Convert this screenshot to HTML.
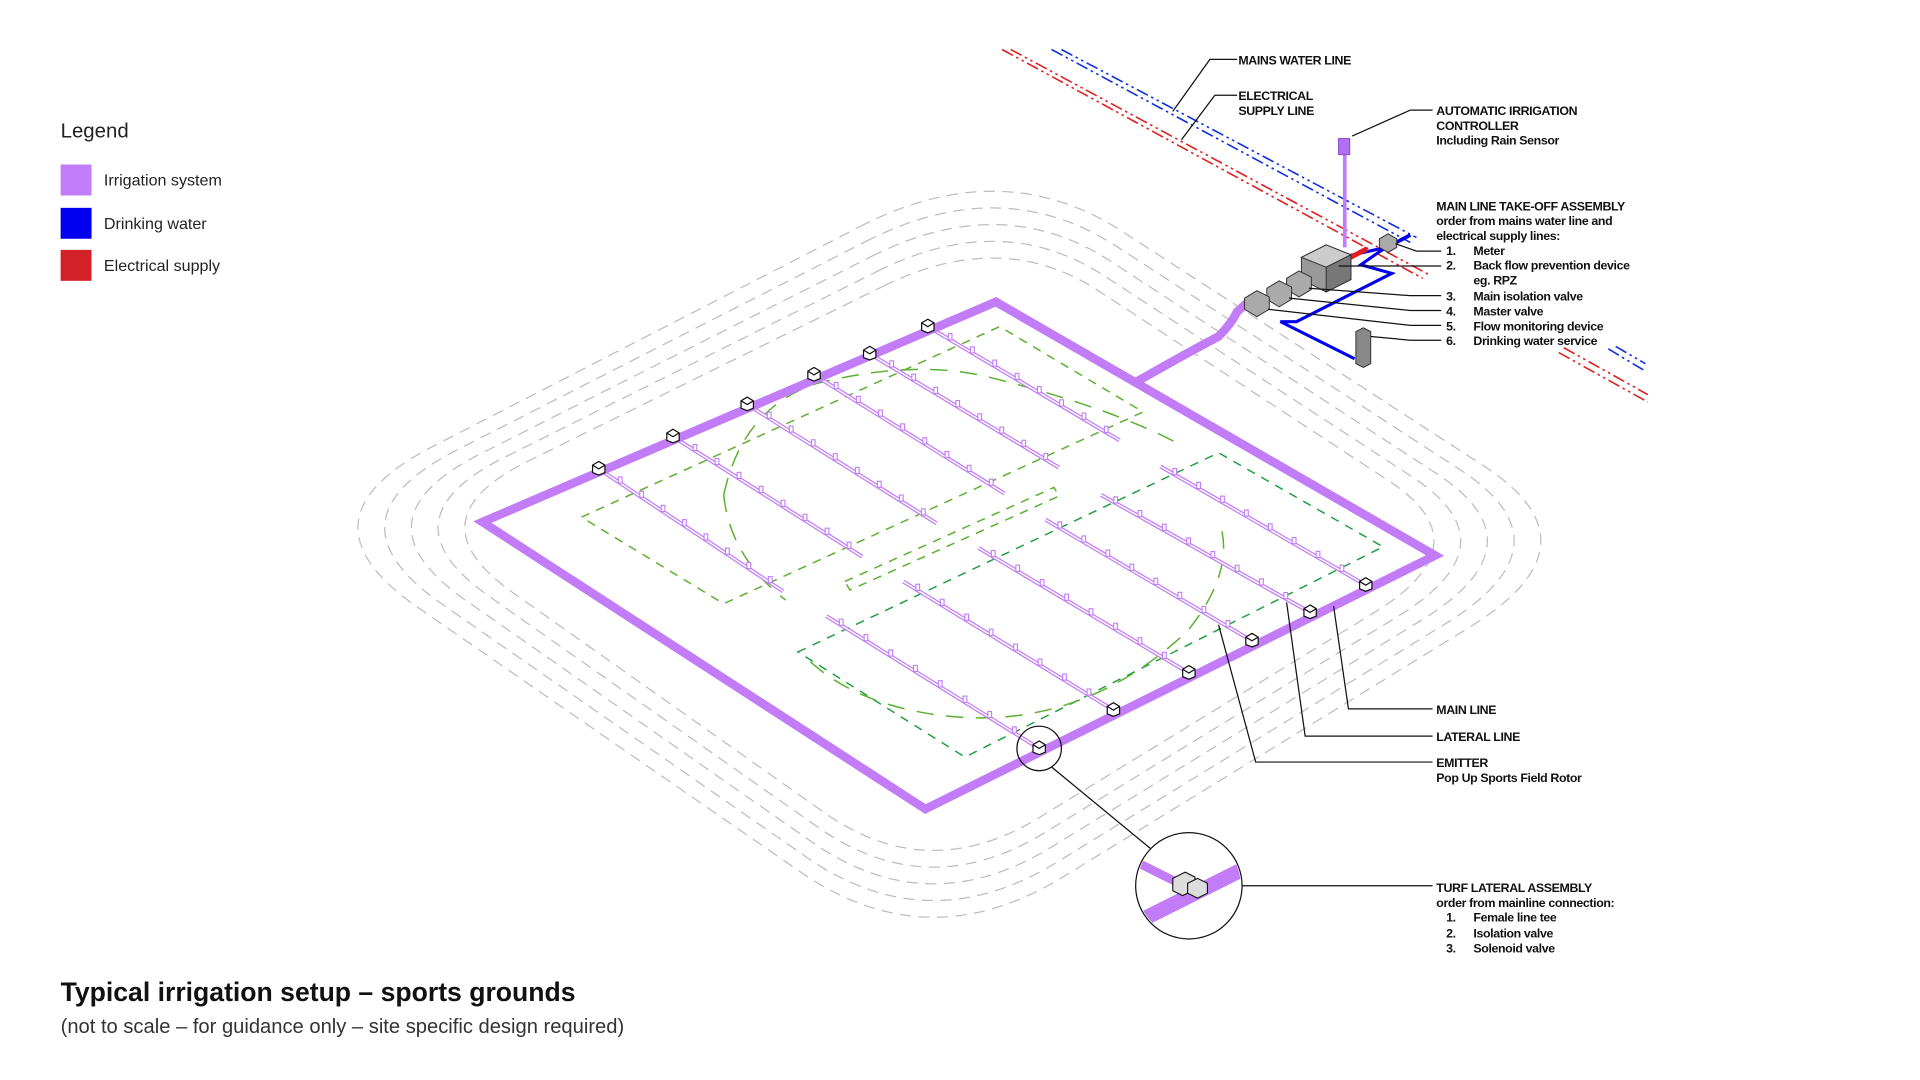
<!DOCTYPE html>
<html><head><meta charset="utf-8"><style>
html,body{margin:0;padding:0;background:#fff;}
svg{display:block}
.t{font-family:"Liberation Sans",Arial,sans-serif;}
.s{font-family:"Liberation Sans",Arial,sans-serif;font-size:10px;fill:#111;letter-spacing:-0.3px}
.b{font-weight:bold}
</style></head><body>
<svg id="sv" width="1920" height="1080" viewBox="0 0 1552 873" xmlns="http://www.w3.org/2000/svg">
<rect width="1552" height="873" fill="#fff"/>
<text x="49" y="111" class="t" font-size="16.5" fill="#222">Legend</text>
<rect x="49" y="133" width="25" height="25" fill="#c27cf7"/>
<rect x="49" y="168" width="25" height="25" fill="#0000ee"/>
<rect x="49" y="202" width="25" height="25" fill="#d42027"/>
<text x="84" y="150" class="t" font-size="13" fill="#222">Irrigation system</text>
<text x="84" y="185" class="t" font-size="13" fill="#222">Drinking water</text>
<text x="84" y="219" class="t" font-size="13" fill="#222">Electrical supply</text>
<text x="49" y="809" class="t b" font-size="21.5" fill="#111">Typical irrigation setup – sports grounds</text>
<text x="49" y="835" class="t" font-size="16.3" fill="#333">(not to scale – for guidance only – site specific design required)</text>

<g id="outl" fill="none" stroke="#bdbdbd" stroke-width="1" stroke-dasharray="9 6"></g>

<g fill="none" stroke-width="1.3" stroke-dasharray="10 3 2 3 2 3">
<line x1="850" y1="40" x2="1140" y2="196" stroke="#1030e0"/>
<line x1="858" y1="40" x2="1145" y2="192" stroke="#1030e0"/>
<line x1="810" y1="40" x2="1150" y2="225" stroke="#e02020"/>
<line x1="817" y1="40" x2="1155" y2="222" stroke="#e02020"/>
<line x1="1300" y1="282" x2="1330" y2="300" stroke="#1030e0"/>
<line x1="1306" y1="280" x2="1330" y2="294" stroke="#1030e0"/>
<line x1="1260" y1="285" x2="1332" y2="325" stroke="#e02020"/>
<line x1="1264" y1="281" x2="1332" y2="319" stroke="#e02020"/>
</g>

<g fill="none" stroke="#5ab030" stroke-width="1.2" stroke-dasharray="7 6">
<polygon points="470,418 808,264 924,333 585,488"/>
<polygon points="683,470 852,394 856,401 687,477"/>
<path d="M 585,400 Q 600,330 660,310 Q 740,290 800,305 Q 900,330 955,360" stroke-dasharray="14 10"/>
<path d="M 585,400 Q 590,450 635,485" stroke-dasharray="14 10"/>
</g>
<g fill="none" stroke="#20a040" stroke-width="1.2" stroke-dasharray="7 6">
<polygon points="645,527 985,366 1118,442 780,612"/>
<path d="M 655,535 Q 700,575 780,580 Q 880,585 960,510 Q 1000,460 985,420" stroke="#5ab030" stroke-dasharray="14 10"/>
</g>

<g id="lat"></g>

<g fill="none" stroke="#c27cf7" stroke-linejoin="miter">
<polygon points="805,244 1160,449 748,654 390,422" stroke-width="7"/>
<path d="M 918,309 Q 960,285 985,272 Q 995,262 1000,252 L 1010,243" stroke-width="7"/>
<line x1="1087" y1="122" x2="1087" y2="200" stroke-width="3"/>
</g>
<rect x="1082" y="112" width="9" height="13" fill="#b070f0" stroke="#8a4bd0" stroke-width="0.8"/>
<g id="boxes"></g>

<g stroke="#333" stroke-width="0.8">
<polyline points="1085,208 1120,200 1100,214 1125,221 1048,260 1035,260 1095,290" fill="none" stroke="#0000ee" stroke-width="2.5"/>
<line x1="1090" y1="209" x2="1105" y2="201" stroke="#e02020" stroke-width="4"/>
<line x1="1115" y1="203" x2="1140" y2="190" stroke="#0000ee" stroke-width="3"/>
<polygon points="1052,208 1072,198 1092,206 1092,226 1072,236 1052,226" fill="#999"/>
<polygon points="1052,208 1072,198 1092,206 1072,216" fill="#ccc"/>
<polygon points="1072,216 1092,206 1092,226 1072,236" fill="#777"/>
<polygon points="1040,225 1050,219 1060,224 1060,234 1050,240 1040,234" fill="#aaa"/>
<polygon points="1024,233 1034,227 1044,232 1044,242 1034,248 1024,242" fill="#aaa"/>
<polygon points="1006,241 1016,235 1026,240 1026,250 1016,256 1006,250" fill="#aaa"/>
<polygon points="1115,193 1122,189 1129,193 1129,200 1122,204 1115,200" fill="#aaa"/>
<polygon points="1096,268 1102,265 1108,268 1108,294 1102,297 1096,294" fill="#888"/>
</g>

<g fill="none" stroke="#111" stroke-width="1">
<polyline points="948,90 978,48 1000,48"/>
<polyline points="955,113 982,77 1000,77"/>
<polyline points="1093,110 1140,89 1158,89"/>
<polyline points="1128,197 1145,203 1165,203"/>
<polyline points="1082,215 1165,215"/>
<polyline points="1058,233 1140,239 1165,239"/>
<polyline points="1042,241 1140,251 1165,251"/>
<polyline points="1025,250 1140,263 1165,263"/>
<polyline points="1108,272 1140,275 1165,275"/>
<polyline points="1078,490 1090,573 1158,573"/>
<polyline points="1040,487 1055,595 1158,595"/>
<polyline points="985,505 1015,616 1158,616"/>
<line x1="978" y1="716" x2="1158" y2="716"/>
<line x1="850" y1="620" x2="935" y2="690"/>
<circle cx="840" cy="605" r="18"/>
</g>
<circle cx="961" cy="716" r="43" fill="#fff" stroke="#111" stroke-width="1"/>
<clipPath id="cc"><circle cx="961" cy="716" r="42"/></clipPath>
<g clip-path="url(#cc)"><line x1="910" y1="750" x2="1010" y2="700" stroke="#c27cf7" stroke-width="12"/>
<line x1="915" y1="695" x2="965" y2="720" stroke="#c27cf7" stroke-width="7"/></g>
<g stroke="#111" stroke-width="0.9" fill="#ddd">
<polygon points="948,710 958,705 966,709 966,719 956,724 948,720"/>
<polygon points="960,714 968,710 976,714 976,722 968,726 960,722"/>
</g>

<text class="s b" x="1001" y="52">MAINS WATER LINE</text>
<text class="s b" x="1001" y="81">ELECTRICAL</text><text class="s b" x="1001" y="93">SUPPLY LINE</text>
<text class="s b" x="1161" y="93">AUTOMATIC IRRIGATION</text>
<text class="s b" x="1161" y="105">CONTROLLER</text>
<text class="s b" x="1161" y="117">Including Rain Sensor</text>
<text class="s b" x="1161" y="170">MAIN LINE TAKE-OFF ASSEMBLY</text>
<text class="s b" x="1161" y="182">order from mains water line and</text>
<text class="s b" x="1161" y="194">electrical supply lines:</text>
<g class="s b">
<text x="1169" y="206">1.</text><text x="1191" y="206">Meter</text>
<text x="1169" y="218">2.</text><text x="1191" y="218">Back flow prevention device</text>
<text x="1191" y="230">eg. RPZ</text>
<text x="1169" y="243">3.</text><text x="1191" y="243">Main isolation valve</text>
<text x="1169" y="255">4.</text><text x="1191" y="255">Master valve</text>
<text x="1169" y="267">5.</text><text x="1191" y="267">Flow monitoring device</text>
<text x="1169" y="279">6.</text><text x="1191" y="279">Drinking water service</text>
<text x="1161" y="577">MAIN LINE</text>
<text x="1161" y="599">LATERAL LINE</text>
<text x="1161" y="620">EMITTER</text>
<text x="1161" y="632">Pop Up Sports Field Rotor</text>
<text x="1161" y="721">TURF LATERAL ASSEMBLY</text>
<text x="1161" y="733">order from mainline connection:</text>
<text x="1169" y="745">1.</text><text x="1191" y="745">Female line tee</text>
<text x="1169" y="758">2.</text><text x="1191" y="758">Isolation valve</text>
<text x="1169" y="770">3.</text><text x="1191" y="770">Solenoid valve</text>
</g>
</svg>
<script>
var NS="http://www.w3.org/2000/svg";
function el(p,t,a){var e=document.createElementNS(NS,t);for(var k in a)e.setAttribute(k,a[k]);p.appendChild(e);return e;}
var o=document.getElementById('outl');
function lerp(a,b,t){return [a[0]+(b[0]-a[0])*t,a[1]+(b[1]-a[1])*t];}
for(var k=0;k<5;k++){
 var d=k*15;
 var P=[[810,124+d],[1297-d*1.6,440],[750,776-d],[235+d*1.6,420]],path="";
 for(var i=0;i<4;i++){var a=P[(i+3)%4],b=P[i],c=P[(i+1)%4];
  var p1=lerp(b,a,0.2),p2=lerp(b,c,0.2);
  path+=(i==0?"M":"L")+p1[0]+","+p1[1]+" Q"+b[0]+","+b[1]+" "+p2[0]+","+p2[1]+" ";}
 el(o,'path',{d:path+"Z"});
}
var g=document.getElementById('lat');
var L1=[[484,379,633,478],[544,353,697,450],[604,327,757,423],[658,303,812,399],[703,286,856,378],[750,264,905,356],
[840,605,668,498],[900,574,730,470],[961,544,791,443],[1012,518,845,420],[1059,495,890,400],[1104,473,938,377]];
var bx=document.getElementById('boxes');
L1.forEach(function(l){
 el(g,'line',{x1:l[0],y1:l[1],x2:l[2],y2:l[3],stroke:'#c27cf7','stroke-width':3.2});
 el(g,'line',{x1:l[0],y1:l[1],x2:l[2],y2:l[3],stroke:'#fff','stroke-width':1.2});
 for(var i=1;i<=8;i++){var t=i/8.6,x=l[0]+(l[2]-l[0])*t,y=l[1]+(l[3]-l[1])*t;
  el(g,'rect',{x:x-1.5,y:y-5,width:3,height:5,fill:'#fff',stroke:'#c27cf7','stroke-width':0.9});}
 var x=l[0],y=l[1];
 el(bx,'polygon',{points:(x-5)+","+(y-3)+" "+x+","+(y-6)+" "+(x+5)+","+(y-3)+" "+(x+5)+","+(y+3)+" "+x+","+(y+5)+" "+(x-5)+","+(y+3),fill:'#fff',stroke:'#111','stroke-width':1});
 el(bx,'polyline',{points:(x-5)+","+(y-3)+" "+x+","+y+" "+(x+5)+","+(y-3),fill:'none',stroke:'#111','stroke-width':1});
});
</script>
</body></html>
